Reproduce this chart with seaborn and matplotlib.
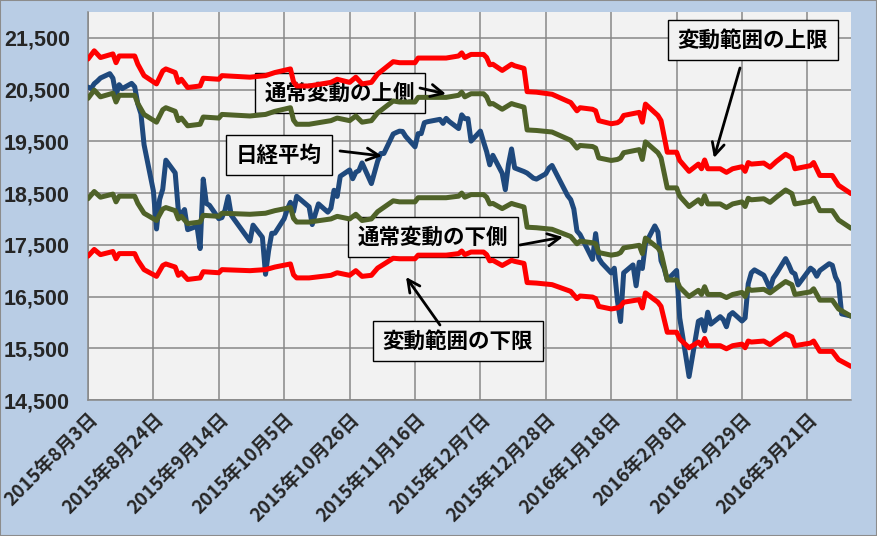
import matplotlib
matplotlib.use("Agg")
import matplotlib.pyplot as plt
import matplotlib.ticker as mticker
from matplotlib.patches import Rectangle
import seaborn as sns
import pandas as pd

# ---------------- data ----------------
nikkei_dates = [
    "2015-08-03", "2015-08-04", "2015-08-05", "2015-08-06", "2015-08-07", "2015-08-10", "2015-08-11",
    "2015-08-12", "2015-08-13", "2015-08-14", "2015-08-17", "2015-08-18", "2015-08-19", "2015-08-20",
    "2015-08-21", "2015-08-24", "2015-08-25", "2015-08-26", "2015-08-27", "2015-08-28", "2015-08-31",
    "2015-09-01", "2015-09-02", "2015-09-03", "2015-09-04", "2015-09-07", "2015-09-08", "2015-09-09",
    "2015-09-10", "2015-09-11", "2015-09-14", "2015-09-15", "2015-09-16", "2015-09-17", "2015-09-18",
    "2015-09-24", "2015-09-25", "2015-09-28", "2015-09-29", "2015-09-30",
    "2015-10-01", "2015-10-02", "2015-10-05", "2015-10-06", "2015-10-07", "2015-10-08", "2015-10-09",
    "2015-10-13", "2015-10-14", "2015-10-15", "2015-10-16", "2015-10-19", "2015-10-20", "2015-10-21",
    "2015-10-22", "2015-10-23", "2015-10-26", "2015-10-27", "2015-10-28", "2015-10-29", "2015-10-30",
    "2015-11-02", "2015-11-04", "2015-11-05", "2015-11-06", "2015-11-09", "2015-11-10", "2015-11-11",
    "2015-11-12", "2015-11-13", "2015-11-16", "2015-11-17", "2015-11-18", "2015-11-19", "2015-11-20",
    "2015-11-24", "2015-11-25", "2015-11-26", "2015-11-27", "2015-11-30",
    "2015-12-01", "2015-12-02", "2015-12-03", "2015-12-04", "2015-12-07", "2015-12-08", "2015-12-09",
    "2015-12-10", "2015-12-11", "2015-12-14", "2015-12-15", "2015-12-16", "2015-12-17", "2015-12-18",
    "2015-12-21", "2015-12-22", "2015-12-24", "2015-12-25", "2015-12-28", "2015-12-29", "2015-12-30",
    "2016-01-04", "2016-01-05", "2016-01-06", "2016-01-07", "2016-01-08", "2016-01-12", "2016-01-13",
    "2016-01-14", "2016-01-15", "2016-01-18", "2016-01-19", "2016-01-20", "2016-01-21", "2016-01-22",
    "2016-01-25", "2016-01-26", "2016-01-27", "2016-01-28", "2016-01-29",
    "2016-02-01", "2016-02-02", "2016-02-03", "2016-02-04", "2016-02-05", "2016-02-08", "2016-02-09",
    "2016-02-10", "2016-02-12", "2016-02-15", "2016-02-16", "2016-02-17", "2016-02-18", "2016-02-19",
    "2016-02-22", "2016-02-23", "2016-02-24", "2016-02-25", "2016-02-26", "2016-02-29",
    "2016-03-01", "2016-03-02", "2016-03-03", "2016-03-04", "2016-03-07", "2016-03-08", "2016-03-09",
    "2016-03-10", "2016-03-11", "2016-03-14", "2016-03-15", "2016-03-16", "2016-03-17", "2016-03-18",
    "2016-03-22", "2016-03-23", "2016-03-24", "2016-03-25", "2016-03-28", "2016-03-29", "2016-03-30",
    "2016-03-31", "2016-04-01", "2016-04-04",
]
nikkei_values = [
    20548, 20520, 20614, 20664, 20724, 20808, 20720,
    20392, 20595, 20519, 20620, 20554, 20222, 20033,
    19435, 18540, 17806, 18376, 18574, 19136, 18890,
    18165, 18095, 18182, 17792, 17860, 17427, 18770,
    18299, 18264, 18005, 18026, 18171, 18432, 18070,
    17571, 17880, 17645, 16930, 17388,
    17722, 17725, 18005, 18186, 18322, 18141, 18438,
    18234, 17891, 18097, 18291, 18131, 18207, 18554,
    18435, 18825, 18947, 18777, 18903, 18935, 19083,
    18683, 19116, 19265, 19265, 19642, 19671, 19697,
    19691, 19596, 19394, 19649, 19649, 19860, 19879,
    19925, 19847, 19944, 19883, 19747,
    20012, 19938, 19939, 19504, 19698, 19492, 19301,
    19046, 19230, 18883, 18565, 19050, 19353, 18986,
    18916, 18886, 18789, 18770, 18873, 18982, 19034,
    18451, 18374, 18191, 17767, 17698, 17219, 17716,
    17241, 17147, 16956, 17048, 16417, 16017, 16958,
    17111, 16708, 17164, 17042, 17518,
    17865, 17750, 17192, 17045, 16820, 17004, 16085,
    15713, 14953, 16022, 16054, 15837, 16197, 15967,
    16111, 16053, 15916, 16140, 16189, 16027,
    16086, 16747, 16960, 17015, 16912, 16784, 16643,
    16852, 16939, 17233, 17117, 16975, 16937, 16725,
    17049, 17001, 16892, 17003, 17135, 17104, 16879,
    16759, 16164, 16123,
]

band_dates = [
    "2015-08-03", "2015-08-05", "2015-08-07", "2015-08-11", "2015-08-12", "2015-08-13", "2015-08-18", "2015-08-19", "2015-08-21", "2015-08-25",
    "2015-08-27", "2015-08-28", "2015-08-31", "2015-09-01", "2015-09-02", "2015-09-04", "2015-09-08", "2015-09-09", "2015-09-14", "2015-09-15",
    "2015-09-24", "2015-09-29", "2015-10-02", "2015-10-07", "2015-10-08", "2015-10-09", "2015-10-13", "2015-10-20", "2015-10-22", "2015-10-26",
    "2015-10-28", "2015-10-30", "2015-11-02", "2015-11-04", "2015-11-09", "2015-11-11", "2015-11-16", "2015-11-17", "2015-11-26", "2015-11-30",
    "2015-12-01", "2015-12-02", "2015-12-04", "2015-12-08", "2015-12-09", "2015-12-10", "2015-12-11", "2015-12-14", "2015-12-17", "2015-12-18",
    "2015-12-21", "2015-12-22", "2015-12-25", "2015-12-30", "2016-01-05", "2016-01-07", "2016-01-08", "2016-01-12", "2016-01-13", "2016-01-14",
    "2016-01-18", "2016-01-20", "2016-01-21", "2016-01-22", "2016-01-27", "2016-01-28", "2016-01-29", "2016-02-02", "2016-02-03", "2016-02-05",
    "2016-02-08", "2016-02-09", "2016-02-12", "2016-02-15", "2016-02-16", "2016-02-17", "2016-02-18", "2016-02-22", "2016-02-24", "2016-02-26",
    "2016-02-29", "2016-03-01", "2016-03-02", "2016-03-03", "2016-03-07", "2016-03-09", "2016-03-11", "2016-03-14", "2016-03-16", "2016-03-17",
    "2016-03-22", "2016-03-23", "2016-03-25", "2016-03-29", "2016-03-31", "2016-04-04",
]
range_upper = [
    21090, 21250, 21120, 21190, 21020, 21150, 21150, 20990, 20770, 20610,
    20860, 20900, 20830, 20640, 20700, 20540, 20570, 20720, 20700, 20770,
    20740, 20770, 20830, 20900, 20650, 20570, 20570, 20640, 20700, 20640,
    20740, 20610, 20640, 20800, 21040, 21020, 21020, 21110, 21110, 21150,
    21210, 21120, 21180, 21180, 21120, 20980, 20990, 20870, 20990, 20960,
    20910, 20460, 20450, 20410, 20250, 20090, 20150, 20120, 20090, 19900,
    19840, 19860, 19900, 20000, 20060, 19870, 20220, 20000, 19900, 19290,
    19290, 19130, 18920, 19060, 18970, 19140, 18970, 18970, 18900, 18970,
    19010, 18920, 19090, 19060, 19080, 19000, 19110, 19250, 19180, 18970,
    19030, 19090, 18840, 18840, 18650, 18490,
]
normal_upper = [
    20330, 20490, 20360, 20430, 20260, 20390, 20390, 20230, 20020, 19870,
    20110, 20150, 20080, 19900, 19950, 19800, 19830, 19970, 19950, 20020,
    19990, 20020, 20080, 20150, 19910, 19830, 19830, 19900, 19950, 19900,
    19990, 19870, 19900, 20050, 20280, 20260, 20260, 20350, 20350, 20390,
    20450, 20360, 20420, 20420, 20360, 20220, 20230, 20120, 20230, 20210,
    20160, 19720, 19710, 19680, 19520, 19370, 19420, 19400, 19370, 19180,
    19130, 19150, 19180, 19280, 19340, 19150, 19490, 19280, 19180, 18600,
    18600, 18440, 18240, 18370, 18290, 18450, 18290, 18290, 18220, 18290,
    18330, 18240, 18400, 18370, 18390, 18320, 18420, 18560, 18490, 18290,
    18340, 18400, 18160, 18160, 17980, 17820,
]
normal_lower = [
    18390, 18530, 18420, 18480, 18330, 18440, 18440, 18300, 18110, 17970,
    18190, 18220, 18160, 18000, 18050, 17910, 17940, 18070, 18050, 18110,
    18090, 18110, 18160, 18220, 18010, 17940, 17940, 18000, 18050, 18000,
    18090, 17970, 18000, 18140, 18350, 18330, 18330, 18410, 18410, 18440,
    18500, 18420, 18470, 18470, 18420, 18290, 18300, 18200, 18300, 18280,
    18230, 17840, 17830, 17800, 17660, 17520, 17570, 17540, 17520, 17350,
    17300, 17320, 17350, 17440, 17490, 17330, 17630, 17440, 17350, 16820,
    16820, 16680, 16500, 16620, 16540, 16690, 16540, 16540, 16480, 16540,
    16580, 16500, 16650, 16620, 16640, 16570, 16660, 16790, 16730, 16540,
    16590, 16650, 16430, 16430, 16260, 16120,
]
range_lower = [
    17280, 17410, 17310, 17370, 17230, 17330, 17330, 17200, 17020, 16890,
    17100, 17130, 17070, 16910, 16960, 16830, 16860, 16980, 16960, 17020,
    17000, 17020, 17070, 17130, 16920, 16860, 16860, 16910, 16960, 16910,
    17000, 16890, 16910, 17050, 17240, 17230, 17230, 17300, 17300, 17330,
    17380, 17310, 17360, 17360, 17310, 17190, 17200, 17100, 17200, 17180,
    17140, 16770, 16760, 16730, 16600, 16460, 16510, 16490, 16460, 16310,
    16260, 16280, 16310, 16390, 16440, 16280, 16570, 16390, 16310, 15810,
    15810, 15680, 15510, 15620, 15550, 15690, 15550, 15550, 15490, 15550,
    15580, 15510, 15640, 15620, 15640, 15570, 15660, 15780, 15720, 15550,
    15600, 15640, 15440, 15440, 15280, 15150,
]

tick_start = "2015-08-03"
tick_end = "2016-03-21"
x_end = "2016-04-04"
y_ticks = [14500, 15500, 16500, 17500, 18500, 19500, 20500, 21500]

label_range_upper = "変動範囲の上限"
label_normal_upper = "通常変動の上側"
label_nikkei = "日経平均"
label_normal_lower = "通常変動の下側"
label_range_lower = "変動範囲の下限"

# ---------------- figure ----------------
sns.set_style("white")
plt.rcParams['font.family'] = ['Noto Sans CJK JP', 'DejaVu Sans']

BG = '#B9CDE5'
PLOT_BG = '#F2F2F2'
GRID = '#878787'

fig = plt.figure(figsize=(8.77, 5.36), dpi=100, facecolor=BG)
ax = fig.add_axes([88 / 877, 1 - 400 / 536, 763 / 877, 388 / 536])
ax.set_facecolor(PLOT_BG)

nk = pd.DataFrame({"date": pd.to_datetime(nikkei_dates), "value": nikkei_values})
bands = pd.DataFrame({
    "date": pd.to_datetime(band_dates),
    "ru": range_upper, "nu": normal_upper, "nl": normal_lower, "rl": range_lower,
})

LW = 3.6
sns.lineplot(data=nk, x="date", y="value", ax=ax, color='#1F497D', linewidth=LW, zorder=3)
sns.lineplot(data=bands, x="date", y="nu", ax=ax, color='#4F6228', linewidth=LW, zorder=4)
sns.lineplot(data=bands, x="date", y="nl", ax=ax, color='#4F6228', linewidth=LW, zorder=4)
sns.lineplot(data=bands, x="date", y="ru", ax=ax, color='#FF0000', linewidth=LW, zorder=4)
sns.lineplot(data=bands, x="date", y="rl", ax=ax, color='#FF0000', linewidth=LW, zorder=4)

ax.set_xlim(pd.Timestamp(tick_start), pd.Timestamp(x_end))
ax.set_ylim(14500, 22000)

xt = pd.date_range(tick_start, tick_end, freq="21D")
ax.set_xticks(xt)
ax.set_xticklabels([f"{d.year}年{d.month}月{d.day}日" for d in xt],
                   rotation=45, ha='right', va='top', rotation_mode='anchor',
                   fontsize=13.5, fontweight='bold', family=['Noto Sans CJK JP'])
ax.set_yticks(y_ticks)
ax.yaxis.set_major_formatter(mticker.FuncFormatter(lambda v, p: f"{int(v):,}"))
for lab in ax.get_yticklabels():
    lab.set_fontsize(15.5)
    lab.set_fontweight('bold')
    lab.set_family(['Liberation Sans'])

ax.set_xlabel("")
ax.set_ylabel("")
ax.grid(True, color=GRID, linewidth=1.1, zorder=0)
ax.set_axisbelow(True)
for s in ['top', 'right']:
    ax.spines[s].set_visible(False)
for s in ['left', 'bottom']:
    ax.spines[s].set_color(GRID)
    ax.spines[s].set_linewidth(1.1)
ax.tick_params(axis='y', which='major', direction='out', length=5, color=GRID, pad=8)
ax.tick_params(axis='x', which='major', direction='out', length=4, color=GRID, pad=3)

# ---------------- annotations ----------------
def label_box(fx, fy, text):
    ax.text(fx, fy, text, transform=ax.transAxes, ha='center', va='center',
            fontsize=15.5, fontweight='bold', color='black', zorder=2.5,
            bbox=dict(boxstyle='square,pad=0.45', fc=PLOT_BG, ec='black', lw=1.0))

def arrow(sx, sy, ex, ey):
    ax.annotate("", xy=(ex, ey), xytext=(sx, sy), xycoords='axes fraction',
                textcoords='axes fraction', zorder=7,
                arrowprops=dict(arrowstyle='->', lw=2.0, color='black',
                                mutation_scale=22, shrinkA=0, shrinkB=0))

label_box(0.8716, 0.928, label_range_upper)
arrow(0.8545, 0.8557, 0.8204, 0.6237)
label_box(0.3303, 0.7912, label_normal_upper)
arrow(0.4351, 0.8041, 0.4692, 0.7887)
label_box(0.2503, 0.6314, label_nikkei)
arrow(0.3303, 0.6418, 0.3853, 0.6289)
label_box(0.4522, 0.4201, label_normal_lower)
arrow(0.5662, 0.3995, 0.6225, 0.4201)
label_box(0.4849, 0.1521, label_range_lower)
arrow(0.4613, 0.1933, 0.4168, 0.3170)

fig.patches.append(Rectangle((0, 0), 1, 1, transform=fig.transFigure, fill=False,
                             ec='#8C8C8C', lw=1.5, zorder=10))

fig.savefig("out.png", dpi=100, facecolor=BG)
